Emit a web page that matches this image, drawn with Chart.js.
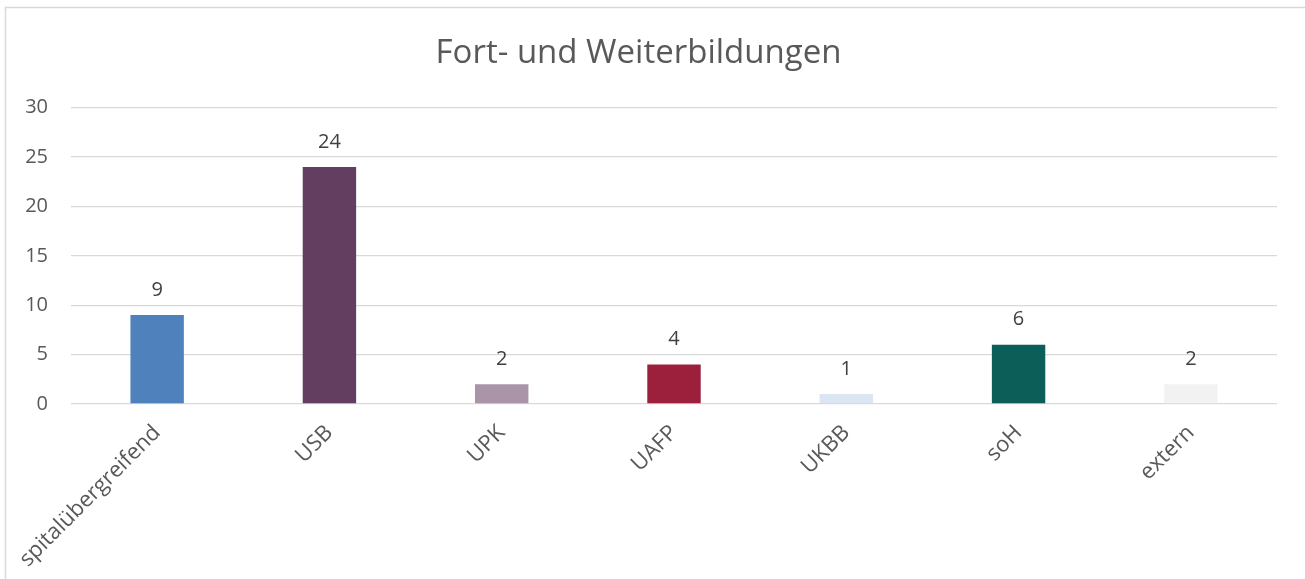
<!DOCTYPE html>
<html>
<head>
<meta charset="utf-8">
<script src="https://cdn.jsdelivr.net/npm/chart.js@4.4.1/dist/chart.umd.min.js"></script>
<style>
  html, body { margin: 0; padding: 0; background: #fff; }
  #wrap { position: absolute; left: 0; top: 0; width: 1305px; height: 579px; }
</style>
</head>
<body>
<div id="wrap"><canvas id="c" width="1305" height="579"></canvas></div>
<script>
// data
const categories = ['spitalübergreifend', 'USB', 'UPK', 'UAFP', 'UKBB', 'soH', 'extern'];
const counts = [9, 24, 2, 4, 1, 6, 2];
const barColors = ['#4F81BD', '#633E61', '#A994A8', '#9C1F3C', '#DCE6F2', '#0B5F58', '#F2F2F2'];
const yTicks = [0, 5, 10, 15, 20, 25, 30];

const fontFamily = '"Open Sans", "Noto Sans", sans-serif';

// outer frame like the office chart box
const framePlugin = {
  id: 'frame',
  beforeDraw(chart) {
    const ctx = chart.ctx;
    ctx.save();
    ctx.strokeStyle = '#D9D9D9';
    ctx.lineWidth = 1.5;
    ctx.beginPath();
    ctx.moveTo(5.5, chart.height);
    ctx.lineTo(5.5, 7.5);
    ctx.lineTo(chart.width, 7.5);
    ctx.stroke();
    ctx.restore();
  }
};

// value labels above bars
const valueLabels = {
  id: 'valueLabels',
  afterDatasetsDraw(chart) {
    const ctx = chart.ctx;
    const meta = chart.getDatasetMeta(0);
    ctx.save();
    ctx.font = '20px ' + fontFamily;
    ctx.fillStyle = '#404040';
    ctx.textAlign = 'center';
    ctx.textBaseline = 'middle';
    meta.data.forEach((bar, i) => {
      ctx.fillText(String(counts[i]), bar.x, bar.y - 25);
    });
    ctx.restore();
  }
};

new Chart(document.getElementById('c'), {
  type: 'bar',
  data: {
    labels: categories,
    datasets: [{
      data: counts,
      backgroundColor: barColors,
      borderWidth: 0,
      barPercentage: 0.62,
      categoryPercentage: 0.5
    }]
  },
  options: {
    responsive: false,
    animation: false,
    layout: { padding: { left: 0, right: 28, top: 0, bottom: 0 } },
    plugins: {
      legend: { display: false },
      tooltip: { enabled: false },
      title: {
        display: true,
        text: 'Fort- und Weiterbildungen',
        color: '#595959',
        font: { family: fontFamily, size: 33, weight: 'normal' },
        padding: { top: 34, bottom: 34 }
      }
    },
    scales: {
      x: {
        grid: { display: false },
        border: { display: false },
        ticks: {
          color: '#595959',
          font: { family: fontFamily, size: 22 },
          minRotation: 45,
          maxRotation: 45,
          padding: 8
        },
        afterFit(scale) { scale.height = 175; }
      },
      y: {
        min: 0,
        max: 30,
        afterBuildTicks(scale) { scale.ticks = yTicks.map(v => ({ value: v })); },
        grid: { color: '#D9D9D9', lineWidth: 1.3, drawTicks: false },
        border: { display: false },
        ticks: {
          color: '#595959',
          font: { family: fontFamily, size: 20 },
          padding: 23
        },
        afterFit(scale) { scale.width = 71; }
      }
    }
  },
  plugins: [framePlugin, valueLabels]
});
</script>
</body>
</html>
